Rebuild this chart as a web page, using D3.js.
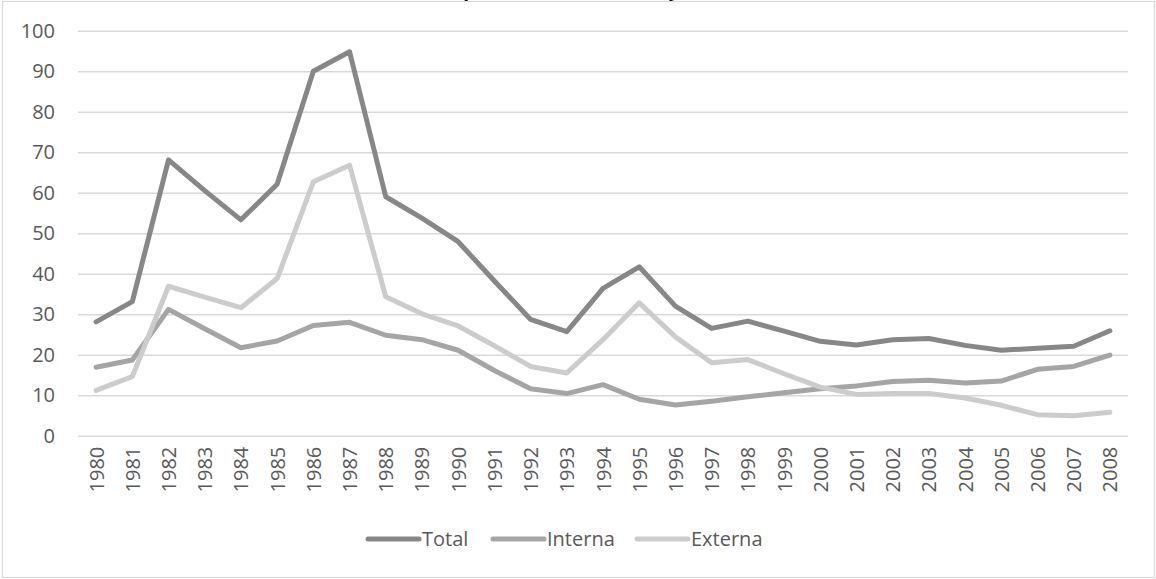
<!DOCTYPE html>
<html>
<head>
<meta charset="utf-8">
<script src="https://cdn.jsdelivr.net/npm/d3@7"></script>
<style>
  html, body { margin: 0; padding: 0; background: #fff; }
  svg { display: block; }
</style>
</head>
<body>
<svg id="chart" width="1156" height="579"></svg>
<script>
// Deuda (% del PIB), 1980-2008
const years = ["1980","1981","1982","1983","1984","1985","1986","1987","1988","1989",
  "1990","1991","1992","1993","1994","1995","1996","1997","1998","1999",
  "2000","2001","2002","2003","2004","2005","2006","2007","2008"];

const total = [28.1, 33.1, 68.1, 60.5, 53.3, 62.1, 90.0, 94.8, 59.0, 53.7,
  47.9, 38.2, 28.7, 25.7, 36.4, 41.7, 32.0, 26.5, 28.3, 25.8,
  23.3, 22.4, 23.7, 24.0, 22.3, 21.1, 21.6, 22.1, 25.9];

const interna = [16.9, 18.7, 31.2, 26.4, 21.7, 23.4, 27.2, 28.0, 24.8, 23.7,
  21.1, 16.1, 11.6, 10.4, 12.6, 9.0, 7.6, 8.5, 9.6, 10.6,
  11.6, 12.3, 13.4, 13.7, 13.0, 13.5, 16.4, 17.1, 19.9];

const externa = [11.2, 14.6, 36.9, 34.2, 31.6, 38.8, 62.7, 66.8, 34.3, 30.1,
  27.1, 22.2, 17.1, 15.5, 23.7, 32.8, 24.4, 18.0, 18.8, 15.3,
  12.0, 10.2, 10.4, 10.4, 9.3, 7.5, 5.2, 4.9, 5.8];

const yTicks = [0, 10, 20, 30, 40, 50, 60, 70, 80, 90, 100];

const seriesNames = ["Total", "Interna", "Externa"];
const seriesColors = ["#878787", "#a5a5a5", "#cccccc"];
const seriesValues = [total, interna, externa];

const svg = d3.select("#chart");
const W = 1156, H = 579;
const font = "'Open Sans', 'Noto Sans', sans-serif";
const textColor = "#595959";
const gridColor = "#d9d9d9";

// Chart area frame
svg.append("rect")
  .attr("x", 2.5).attr("y", 1.5)
  .attr("width", W - 4).attr("height", H - 3)
  .attr("fill", "#fff")
  .attr("stroke", gridColor).attr("stroke-width", 1.2);

// Title (sits above the top edge of the frame)
svg.append("text")
  .attr("x", 578).attr("y", -4)
  .attr("text-anchor", "middle")
  .attr("font-family", font)
  .attr("font-size", 19)
  .attr("font-weight", "bold")
  .attr("fill", "#000")
  .text("Deuda pública total, interna y externa");

const plot = { left: 78, right: 1128, top: 30.7, bottom: 435.7 };

const x = d3.scalePoint()
  .domain(years)
  .range([plot.left, plot.right])
  .padding(0.5);

const y = d3.scaleLinear()
  .domain([0, 100])
  .range([plot.bottom, plot.top]);

// Horizontal gridlines + value labels
const yAxis = d3.axisLeft(y)
  .tickValues(yTicks)
  .tickSize(-(plot.right - plot.left))
  .tickPadding(23)
  .tickFormat(d3.format("d"));

const gy = svg.append("g")
  .attr("transform", `translate(${plot.left},0)`)
  .call(yAxis);
gy.select(".domain").remove();
gy.selectAll(".tick line")
  .attr("stroke", gridColor)
  .attr("stroke-width", 1.5);
gy.selectAll(".tick text")
  .attr("fill", textColor)
  .attr("font-family", font)
  .attr("font-size", 20);

// Year labels, rotated
const xAxis = d3.axisBottom(x).tickSize(0).tickPadding(0);
const gx = svg.append("g")
  .attr("transform", `translate(0,${plot.bottom})`)
  .call(xAxis);
gx.select(".domain").remove();
gx.selectAll(".tick text")
  .attr("fill", textColor)
  .attr("font-family", font)
  .attr("font-size", 20)
  .attr("text-anchor", "end")
  .attr("dy", "0.35em")
  .attr("transform", "translate(0,11) rotate(-90)")
  .attr("x", 0).attr("y", 0);

// Series lines
const line = d3.line()
  .x((d, i) => x(years[i]))
  .y(d => y(d));

seriesValues.forEach((vals, k) => {
  svg.append("path")
    .datum(vals)
    .attr("fill", "none")
    .attr("stroke", seriesColors[k])
    .attr("stroke-width", 5)
    .attr("stroke-linejoin", "round")
    .attr("stroke-linecap", "round")
    .attr("d", line);
});

// Legend
const legendX = [368, 493, 637];
const legend = svg.append("g");
seriesNames.forEach((name, k) => {
  const g = legend.append("g").attr("transform", `translate(${legendX[k]},539)`);
  g.append("line")
    .attr("x1", 0).attr("x2", 51)
    .attr("y1", 0).attr("y2", 0)
    .attr("stroke", seriesColors[k])
    .attr("stroke-width", 5)
    .attr("stroke-linecap", "round");
  g.append("text")
    .attr("x", 54).attr("y", 0)
    .attr("dy", "0.35em")
    .attr("fill", textColor)
    .attr("font-family", font)
    .attr("font-size", 20)
    .text(name);
});
</script>
</body>
</html>
